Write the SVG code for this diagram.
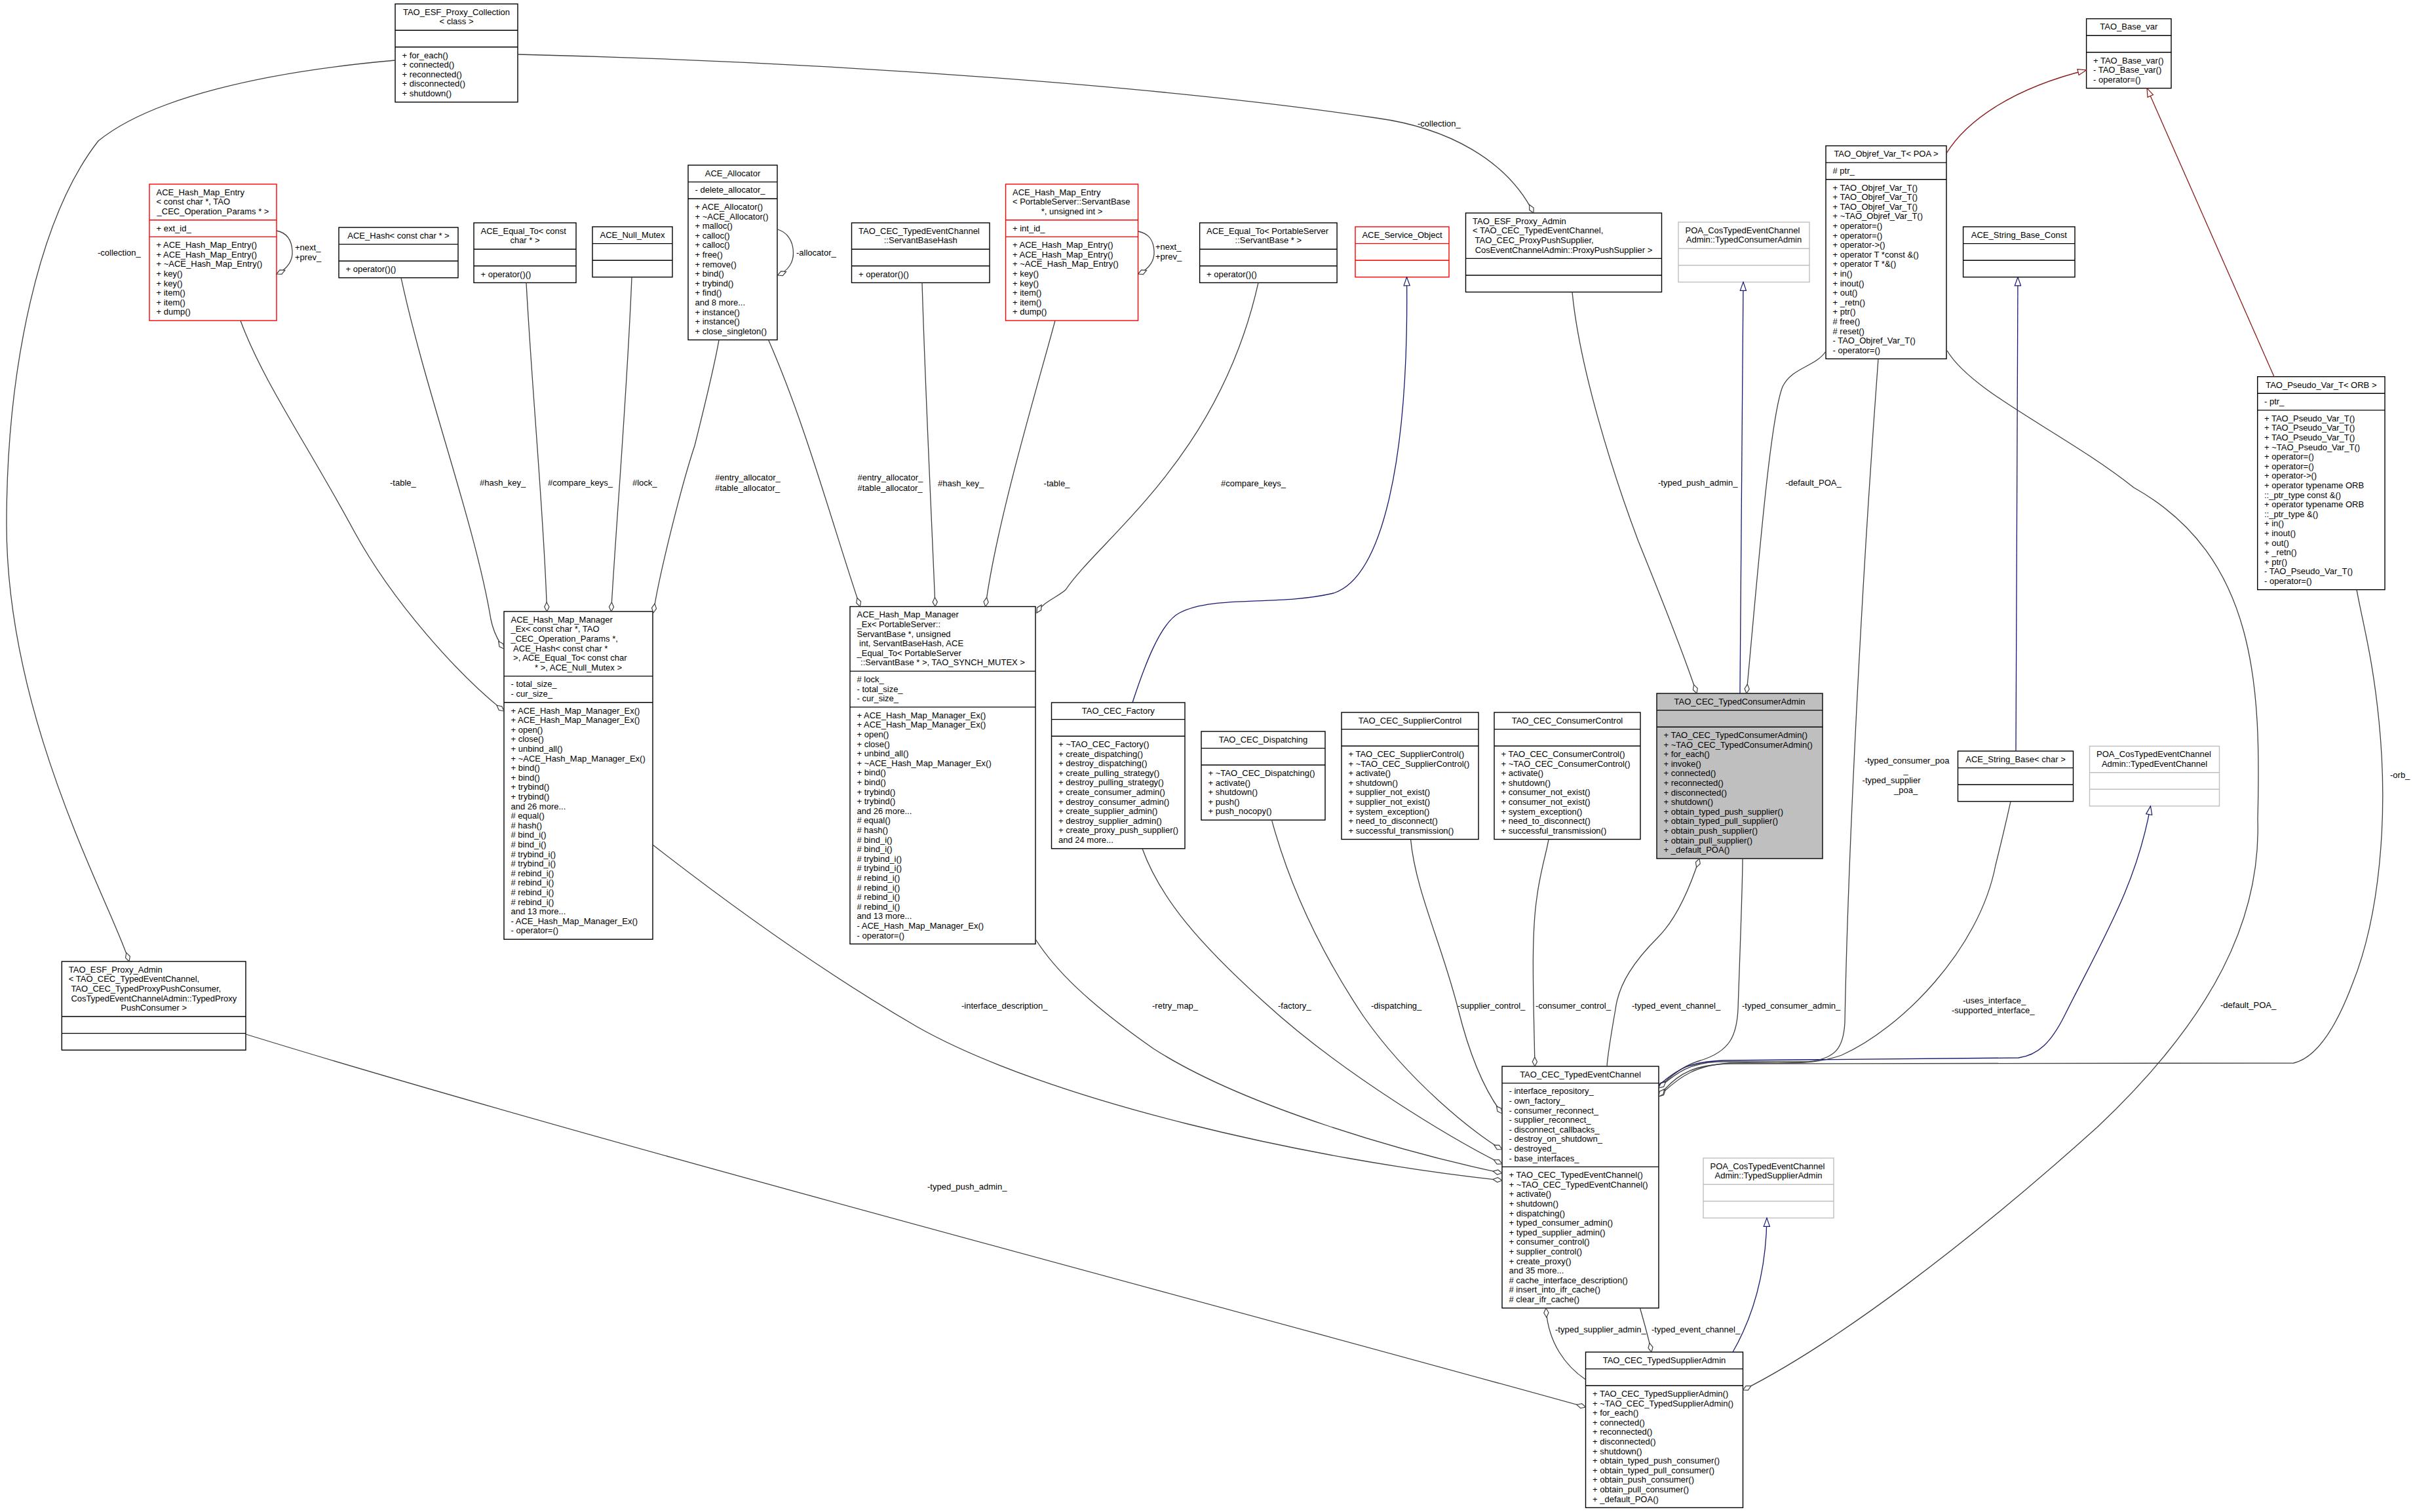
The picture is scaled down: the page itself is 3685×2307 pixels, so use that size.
<svg xmlns="http://www.w3.org/2000/svg" width="3685" height="2307" viewBox="0 0 3685 2307">
<style>
text{font-family:"Liberation Sans",Arial,Helvetica,sans-serif;font-size:13px;fill:#000}
.c{text-anchor:middle}
.n rect{fill:#fff;stroke:#000;stroke-width:1.4}
.n line{stroke:#000;stroke-width:1.4}
.r rect,.r line{stroke:#ff0000}
.g rect,.g line{stroke:#bfbfbf}
.sel rect{fill:#bfbfbf}
.e{fill:none;stroke:#404040;stroke-width:1.3}
.eb{fill:none;stroke:#191970;stroke-width:1.3}
.er{fill:none;stroke:#8b1a1a;stroke-width:1.3}
.a{marker-start:url(#dm)}
</style>
<defs>
<marker id="dm" viewBox="-1 -5 16 10" refX="0" refY="0" markerWidth="16" markerHeight="10" markerUnits="userSpaceOnUse" orient="auto"><path d="M0,0 L7,-3.6 L14,0 L7,3.6 Z" fill="#fff" stroke="#404040" stroke-width="1.2"/></marker>
<marker id="tb" viewBox="-1 -6 15 12" refX="13" refY="0" markerWidth="15" markerHeight="12" markerUnits="userSpaceOnUse" orient="auto"><path d="M0,-4.6 L13,0 L0,4.6 Z" fill="#fff" stroke="#191970" stroke-width="1.2"/></marker>
<marker id="tr" viewBox="-1 -6 15 12" refX="13" refY="0" markerWidth="15" markerHeight="12" markerUnits="userSpaceOnUse" orient="auto"><path d="M0,-4.6 L13,0 L0,4.6 Z" fill="#fff" stroke="#8b1a1a" stroke-width="1.2"/></marker>
</defs>
<rect x="0" y="0" width="3685" height="2307" fill="#fff"/>

<g id="TAO_ESF_Proxy_Collection" class="n">
<rect x="603" y="6" width="187" height="149.8"/>
<line x1="603" y1="46.2" x2="790" y2="46.2"/><line x1="603" y1="71.8" x2="790" y2="71.8"/>
<text x="696.5" y="22.8" class="c">TAO_ESF_Proxy_Collection</text>
<text x="696.5" y="37.4" class="c">&lt; class &gt;</text>
<text x="613.5" y="88.6"><tspan x="613.5">+ for_each()</tspan><tspan x="613.5" dy="14.6">+ connected()</tspan><tspan x="613.5" dy="14.6">+ reconnected()</tspan><tspan x="613.5" dy="14.6">+ disconnected()</tspan><tspan x="613.5" dy="14.6">+ shutdown()</tspan></text>
</g>

<g id="ACE_Hash_Map_Entry_const_char" class="n r">
<rect x="228" y="281" width="194" height="208.2"/>
<line x1="228" y1="335.8" x2="422" y2="335.8"/><line x1="228" y1="361.4" x2="422" y2="361.4"/>
<text x="238.5" y="297.8">ACE_Hash_Map_Entry</text>
<text x="238.5" y="312.4">&lt; const char *, TAO</text>
<text x="325" y="327" class="c">_CEC_Operation_Params * &gt;</text>
<text x="238.5" y="352.6">+ ext_id_</text>
<text x="238.5" y="378.2"><tspan x="238.5">+ ACE_Hash_Map_Entry()</tspan><tspan x="238.5" dy="14.6">+ ACE_Hash_Map_Entry()</tspan><tspan x="238.5" dy="14.6">+ ~ACE_Hash_Map_Entry()</tspan><tspan x="238.5" dy="14.6">+ key()</tspan><tspan x="238.5" dy="14.6">+ key()</tspan><tspan x="238.5" dy="14.6">+ item()</tspan><tspan x="238.5" dy="14.6">+ item()</tspan><tspan x="238.5" dy="14.6">+ dump()</tspan></text>
</g>

<g id="ACE_Hash_const_char" class="n">
<rect x="517" y="347" width="182" height="76.8"/>
<line x1="517" y1="372.6" x2="699" y2="372.6"/><line x1="517" y1="398.2" x2="699" y2="398.2"/>
<text x="608" y="363.8" class="c">ACE_Hash&lt; const char * &gt;</text>
<text x="527.5" y="415">+ operator()()</text>
</g>

<g id="ACE_Equal_To_const_char" class="n">
<rect x="723" y="340" width="156" height="91.4"/>
<line x1="723" y1="380.2" x2="879" y2="380.2"/><line x1="723" y1="405.8" x2="879" y2="405.8"/>
<text x="733.5" y="356.8">ACE_Equal_To&lt; const</text>
<text x="801" y="371.4" class="c">char * &gt;</text>
<text x="733.5" y="422.6">+ operator()()</text>
</g>

<g id="ACE_Null_Mutex" class="n">
<rect x="904" y="346" width="122" height="76.8"/>
<line x1="904" y1="371.6" x2="1026" y2="371.6"/><line x1="904" y1="397.2" x2="1026" y2="397.2"/>
<text x="965" y="362.8" class="c">ACE_Null_Mutex</text>
</g>

<g id="ACE_Allocator" class="n">
<rect x="1050" y="252" width="136" height="266.6"/>
<line x1="1050" y1="277.6" x2="1186" y2="277.6"/><line x1="1050" y1="303.2" x2="1186" y2="303.2"/>
<text x="1118" y="268.8" class="c">ACE_Allocator</text>
<text x="1060.5" y="294.4">- delete_allocator_</text>
<text x="1060.5" y="320"><tspan x="1060.5">+ ACE_Allocator()</tspan><tspan x="1060.5" dy="14.6">+ ~ACE_Allocator()</tspan><tspan x="1060.5" dy="14.6">+ malloc()</tspan><tspan x="1060.5" dy="14.6">+ calloc()</tspan><tspan x="1060.5" dy="14.6">+ calloc()</tspan><tspan x="1060.5" dy="14.6">+ free()</tspan><tspan x="1060.5" dy="14.6">+ remove()</tspan><tspan x="1060.5" dy="14.6">+ bind()</tspan><tspan x="1060.5" dy="14.6">+ trybind()</tspan><tspan x="1060.5" dy="14.6">+ find()</tspan><tspan x="1060.5" dy="14.6">and 8 more...</tspan><tspan x="1060.5" dy="14.6">+ instance()</tspan><tspan x="1060.5" dy="14.6">+ instance()</tspan><tspan x="1060.5" dy="14.6">+ close_singleton()</tspan></text>
</g>

<g id="ServantBaseHash" class="n">
<rect x="1299.5" y="340" width="210.5" height="91.4"/>
<line x1="1299.5" y1="380.2" x2="1510" y2="380.2"/><line x1="1299.5" y1="405.8" x2="1510" y2="405.8"/>
<text x="1310" y="356.8">TAO_CEC_TypedEventChannel</text>
<text x="1404.75" y="371.4" class="c">::ServantBaseHash</text>
<text x="1310" y="422.6">+ operator()()</text>
</g>

<g id="ACE_Hash_Map_Entry_ServantBase" class="n r">
<rect x="1534.5" y="281" width="202" height="208.2"/>
<line x1="1534.5" y1="335.8" x2="1736.5" y2="335.8"/><line x1="1534.5" y1="361.4" x2="1736.5" y2="361.4"/>
<text x="1545" y="297.8">ACE_Hash_Map_Entry</text>
<text x="1545" y="312.4">&lt; PortableServer::ServantBase</text>
<text x="1635.5" y="327" class="c">*, unsigned int &gt;</text>
<text x="1545" y="352.6">+ int_id_</text>
<text x="1545" y="378.2"><tspan x="1545">+ ACE_Hash_Map_Entry()</tspan><tspan x="1545" dy="14.6">+ ACE_Hash_Map_Entry()</tspan><tspan x="1545" dy="14.6">+ ~ACE_Hash_Map_Entry()</tspan><tspan x="1545" dy="14.6">+ key()</tspan><tspan x="1545" dy="14.6">+ key()</tspan><tspan x="1545" dy="14.6">+ item()</tspan><tspan x="1545" dy="14.6">+ item()</tspan><tspan x="1545" dy="14.6">+ dump()</tspan></text>
</g>

<g id="ACE_Equal_To_ServantBase" class="n">
<rect x="1830.6" y="340" width="209.5" height="91.4"/>
<line x1="1830.6" y1="380.2" x2="2040.1" y2="380.2"/><line x1="1830.6" y1="405.8" x2="2040.1" y2="405.8"/>
<text x="1841" y="356.8">ACE_Equal_To&lt; PortableServer</text>
<text x="1935.35" y="371.4" class="c">::ServantBase * &gt;</text>
<text x="1841" y="422.6">+ operator()()</text>
</g>

<g id="ACE_Service_Object" class="n r">
<rect x="2068" y="346" width="143" height="76.8"/>
<line x1="2068" y1="371.6" x2="2211" y2="371.6"/><line x1="2068" y1="397.2" x2="2211" y2="397.2"/>
<text x="2139.5" y="362.8" class="c">ACE_Service_Object</text>
</g>

<g id="TAO_ESF_Proxy_Admin_Supplier" class="n">
<rect x="2236.5" y="325" width="299" height="120.6"/>
<line x1="2236.5" y1="394.4" x2="2535.5" y2="394.4"/><line x1="2236.5" y1="420" x2="2535.5" y2="420"/>
<text x="2247" y="341.8">TAO_ESF_Proxy_Admin</text>
<text x="2247" y="356.4">&lt; TAO_CEC_TypedEventChannel,</text>
<text x="2250.6" y="371">TAO_CEC_ProxyPushSupplier,</text>
<text x="2386" y="385.6" class="c">CosEventChannelAdmin::ProxyPushSupplier &gt;</text>
</g>

<g id="POA_TypedConsumerAdmin" class="n g">
<rect x="2561" y="339" width="200" height="91.4"/>
<line x1="2561" y1="379.2" x2="2761" y2="379.2"/><line x1="2561" y1="404.8" x2="2761" y2="404.8"/>
<text x="2571.5" y="355.8">POA_CosTypedEventChannel</text>
<text x="2661" y="370.4" class="c">Admin::TypedConsumerAdmin</text>
</g>

<g id="TAO_Objref_Var_T_POA" class="n">
<rect x="2786" y="222.5" width="184" height="325"/>
<line x1="2786" y1="248.1" x2="2970" y2="248.1"/><line x1="2786" y1="273.7" x2="2970" y2="273.7"/>
<text x="2878" y="239.3" class="c">TAO_Objref_Var_T&lt; POA &gt;</text>
<text x="2796.5" y="264.9"># ptr_</text>
<text x="2796.5" y="290.5"><tspan x="2796.5">+ TAO_Objref_Var_T()</tspan><tspan x="2796.5" dy="14.6">+ TAO_Objref_Var_T()</tspan><tspan x="2796.5" dy="14.6">+ TAO_Objref_Var_T()</tspan><tspan x="2796.5" dy="14.6">+ ~TAO_Objref_Var_T()</tspan><tspan x="2796.5" dy="14.6">+ operator=()</tspan><tspan x="2796.5" dy="14.6">+ operator=()</tspan><tspan x="2796.5" dy="14.6">+ operator-&gt;()</tspan><tspan x="2796.5" dy="14.6">+ operator T *const &amp;()</tspan><tspan x="2796.5" dy="14.6">+ operator T *&amp;()</tspan><tspan x="2796.5" dy="14.6">+ in()</tspan><tspan x="2796.5" dy="14.6">+ inout()</tspan><tspan x="2796.5" dy="14.6">+ out()</tspan><tspan x="2796.5" dy="14.6">+ _retn()</tspan><tspan x="2796.5" dy="14.6">+ ptr()</tspan><tspan x="2796.5" dy="14.6"># free()</tspan><tspan x="2796.5" dy="14.6"># reset()</tspan><tspan x="2796.5" dy="14.6">- TAO_Objref_Var_T()</tspan><tspan x="2796.5" dy="14.6">- operator=()</tspan></text>
</g>

<g id="TAO_Base_var" class="n">
<rect x="3183.6" y="28.6" width="129.4" height="106"/>
<line x1="3183.6" y1="54.2" x2="3313" y2="54.2"/><line x1="3183.6" y1="79.8" x2="3313" y2="79.8"/>
<text x="3248.3" y="45.4" class="c">TAO_Base_var</text>
<text x="3194" y="96.6"><tspan x="3194">+ TAO_Base_var()</tspan><tspan x="3194" dy="14.6">- TAO_Base_var()</tspan><tspan x="3194" dy="14.6">- operator=()</tspan></text>
</g>

<g id="ACE_String_Base_Const" class="n">
<rect x="2995.6" y="346" width="170.4" height="76.8"/>
<line x1="2995.6" y1="371.6" x2="3166" y2="371.6"/><line x1="2995.6" y1="397.2" x2="3166" y2="397.2"/>
<text x="3080.8" y="362.8" class="c">ACE_String_Base_Const</text>
</g>

<g id="TAO_Pseudo_Var_T_ORB" class="n">
<rect x="3444.7" y="574.7" width="194.3" height="325"/>
<line x1="3444.7" y1="600.3" x2="3639" y2="600.3"/><line x1="3444.7" y1="625.9" x2="3639" y2="625.9"/>
<text x="3541.85" y="591.5" class="c">TAO_Pseudo_Var_T&lt; ORB &gt;</text>
<text x="3455" y="617.1">- ptr_</text>
<text x="3455" y="642.7"><tspan x="3455">+ TAO_Pseudo_Var_T()</tspan><tspan x="3455" dy="14.6">+ TAO_Pseudo_Var_T()</tspan><tspan x="3455" dy="14.6">+ TAO_Pseudo_Var_T()</tspan><tspan x="3455" dy="14.6">+ ~TAO_Pseudo_Var_T()</tspan><tspan x="3455" dy="14.6">+ operator=()</tspan><tspan x="3455" dy="14.6">+ operator=()</tspan><tspan x="3455" dy="14.6">+ operator-&gt;()</tspan><tspan x="3455" dy="14.6">+ operator typename ORB</tspan><tspan x="3455" dy="14.6">::_ptr_type const &amp;()</tspan><tspan x="3455" dy="14.6">+ operator typename ORB</tspan><tspan x="3455" dy="14.6">::_ptr_type &amp;()</tspan><tspan x="3455" dy="14.6">+ in()</tspan><tspan x="3455" dy="14.6">+ inout()</tspan><tspan x="3455" dy="14.6">+ out()</tspan><tspan x="3455" dy="14.6">+ _retn()</tspan><tspan x="3455" dy="14.6">+ ptr()</tspan><tspan x="3455" dy="14.6">- TAO_Pseudo_Var_T()</tspan><tspan x="3455" dy="14.6">- operator=()</tspan></text>
</g>

<g id="ACE_Hash_Map_Manager_Ex_const_char" class="n">
<rect x="769" y="933" width="227" height="500.2"/>
<line x1="769" y1="1031.6" x2="996" y2="1031.6"/><line x1="769" y1="1071.8" x2="996" y2="1071.8"/>
<text x="779.5" y="949.8"><tspan x="779.5">ACE_Hash_Map_Manager</tspan><tspan x="779.5" dy="14.6">_Ex&lt; const char *, TAO</tspan><tspan x="779.5" dy="14.6">_CEC_Operation_Params *,</tspan><tspan x="783.1" dy="14.6">ACE_Hash&lt; const char *</tspan><tspan x="783.1" dy="14.6">&gt;, ACE_Equal_To&lt; const char</tspan></text>
<text x="882.5" y="1022.8" class="c">* &gt;, ACE_Null_Mutex &gt;</text>
<text x="779.5" y="1048.4"><tspan x="779.5">- total_size_</tspan><tspan x="779.5" dy="14.6">- cur_size_</tspan></text>
<text x="779.5" y="1088.6"><tspan x="779.5">+ ACE_Hash_Map_Manager_Ex()</tspan><tspan x="779.5" dy="14.6">+ ACE_Hash_Map_Manager_Ex()</tspan><tspan x="779.5" dy="14.6">+ open()</tspan><tspan x="779.5" dy="14.6">+ close()</tspan><tspan x="779.5" dy="14.6">+ unbind_all()</tspan><tspan x="779.5" dy="14.6">+ ~ACE_Hash_Map_Manager_Ex()</tspan><tspan x="779.5" dy="14.6">+ bind()</tspan><tspan x="779.5" dy="14.6">+ bind()</tspan><tspan x="779.5" dy="14.6">+ trybind()</tspan><tspan x="779.5" dy="14.6">+ trybind()</tspan><tspan x="779.5" dy="14.6">and 26 more...</tspan><tspan x="779.5" dy="14.6"># equal()</tspan><tspan x="779.5" dy="14.6"># hash()</tspan><tspan x="779.5" dy="14.6"># bind_i()</tspan><tspan x="779.5" dy="14.6"># bind_i()</tspan><tspan x="779.5" dy="14.6"># trybind_i()</tspan><tspan x="779.5" dy="14.6"># trybind_i()</tspan><tspan x="779.5" dy="14.6"># rebind_i()</tspan><tspan x="779.5" dy="14.6"># rebind_i()</tspan><tspan x="779.5" dy="14.6"># rebind_i()</tspan><tspan x="779.5" dy="14.6"># rebind_i()</tspan><tspan x="779.5" dy="14.6">and 13 more...</tspan><tspan x="779.5" dy="14.6">- ACE_Hash_Map_Manager_Ex()</tspan><tspan x="779.5" dy="14.6">- operator=()</tspan></text>
</g>

<g id="ACE_Hash_Map_Manager_Ex_ServantBase" class="n">
<rect x="1297" y="925.5" width="283" height="514.8"/>
<line x1="1297" y1="1024.1" x2="1580" y2="1024.1"/><line x1="1297" y1="1078.9" x2="1580" y2="1078.9"/>
<text x="1307.5" y="942.3"><tspan x="1307.5">ACE_Hash_Map_Manager</tspan><tspan x="1307.5" dy="14.6">_Ex&lt; PortableServer::</tspan><tspan x="1307.5" dy="14.6">ServantBase *, unsigned</tspan><tspan x="1311.1" dy="14.6">int, ServantBaseHash, ACE</tspan><tspan x="1307.5" dy="14.6">_Equal_To&lt; PortableServer</tspan></text>
<text x="1438.5" y="1015.3" class="c">::ServantBase * &gt;, TAO_SYNCH_MUTEX &gt;</text>
<text x="1307.5" y="1040.9"><tspan x="1307.5"># lock_</tspan><tspan x="1307.5" dy="14.6">- total_size_</tspan><tspan x="1307.5" dy="14.6">- cur_size_</tspan></text>
<text x="1307.5" y="1095.7"><tspan x="1307.5">+ ACE_Hash_Map_Manager_Ex()</tspan><tspan x="1307.5" dy="14.6">+ ACE_Hash_Map_Manager_Ex()</tspan><tspan x="1307.5" dy="14.6">+ open()</tspan><tspan x="1307.5" dy="14.6">+ close()</tspan><tspan x="1307.5" dy="14.6">+ unbind_all()</tspan><tspan x="1307.5" dy="14.6">+ ~ACE_Hash_Map_Manager_Ex()</tspan><tspan x="1307.5" dy="14.6">+ bind()</tspan><tspan x="1307.5" dy="14.6">+ bind()</tspan><tspan x="1307.5" dy="14.6">+ trybind()</tspan><tspan x="1307.5" dy="14.6">+ trybind()</tspan><tspan x="1307.5" dy="14.6">and 26 more...</tspan><tspan x="1307.5" dy="14.6"># equal()</tspan><tspan x="1307.5" dy="14.6"># hash()</tspan><tspan x="1307.5" dy="14.6"># bind_i()</tspan><tspan x="1307.5" dy="14.6"># bind_i()</tspan><tspan x="1307.5" dy="14.6"># trybind_i()</tspan><tspan x="1307.5" dy="14.6"># trybind_i()</tspan><tspan x="1307.5" dy="14.6"># rebind_i()</tspan><tspan x="1307.5" dy="14.6"># rebind_i()</tspan><tspan x="1307.5" dy="14.6"># rebind_i()</tspan><tspan x="1307.5" dy="14.6"># rebind_i()</tspan><tspan x="1307.5" dy="14.6">and 13 more...</tspan><tspan x="1307.5" dy="14.6">- ACE_Hash_Map_Manager_Ex()</tspan><tspan x="1307.5" dy="14.6">- operator=()</tspan></text>
</g>

<g id="TAO_CEC_Factory" class="n">
<rect x="1604.5" y="1072" width="203.5" height="222.8"/>
<line x1="1604.5" y1="1097.6" x2="1808" y2="1097.6"/><line x1="1604.5" y1="1123.2" x2="1808" y2="1123.2"/>
<text x="1706.25" y="1088.8" class="c">TAO_CEC_Factory</text>
<text x="1615" y="1140"><tspan x="1615">+ ~TAO_CEC_Factory()</tspan><tspan x="1615" dy="14.6">+ create_dispatching()</tspan><tspan x="1615" dy="14.6">+ destroy_dispatching()</tspan><tspan x="1615" dy="14.6">+ create_pulling_strategy()</tspan><tspan x="1615" dy="14.6">+ destroy_pulling_strategy()</tspan><tspan x="1615" dy="14.6">+ create_consumer_admin()</tspan><tspan x="1615" dy="14.6">+ destroy_consumer_admin()</tspan><tspan x="1615" dy="14.6">+ create_supplier_admin()</tspan><tspan x="1615" dy="14.6">+ destroy_supplier_admin()</tspan><tspan x="1615" dy="14.6">+ create_proxy_push_supplier()</tspan><tspan x="1615" dy="14.6">and 24 more...</tspan></text>
</g>

<g id="TAO_CEC_Dispatching" class="n">
<rect x="1833" y="1116" width="189" height="135.2"/>
<line x1="1833" y1="1141.6" x2="2022" y2="1141.6"/><line x1="1833" y1="1167.2" x2="2022" y2="1167.2"/>
<text x="1927.5" y="1132.8" class="c">TAO_CEC_Dispatching</text>
<text x="1843.5" y="1184"><tspan x="1843.5">+ ~TAO_CEC_Dispatching()</tspan><tspan x="1843.5" dy="14.6">+ activate()</tspan><tspan x="1843.5" dy="14.6">+ shutdown()</tspan><tspan x="1843.5" dy="14.6">+ push()</tspan><tspan x="1843.5" dy="14.6">+ push_nocopy()</tspan></text>
</g>

<g id="TAO_CEC_SupplierControl" class="n">
<rect x="2047" y="1087" width="209" height="193.6"/>
<line x1="2047" y1="1112.6" x2="2256" y2="1112.6"/><line x1="2047" y1="1138.2" x2="2256" y2="1138.2"/>
<text x="2151.5" y="1103.8" class="c">TAO_CEC_SupplierControl</text>
<text x="2057.5" y="1155"><tspan x="2057.5">+ TAO_CEC_SupplierControl()</tspan><tspan x="2057.5" dy="14.6">+ ~TAO_CEC_SupplierControl()</tspan><tspan x="2057.5" dy="14.6">+ activate()</tspan><tspan x="2057.5" dy="14.6">+ shutdown()</tspan><tspan x="2057.5" dy="14.6">+ supplier_not_exist()</tspan><tspan x="2057.5" dy="14.6">+ supplier_not_exist()</tspan><tspan x="2057.5" dy="14.6">+ system_exception()</tspan><tspan x="2057.5" dy="14.6">+ need_to_disconnect()</tspan><tspan x="2057.5" dy="14.6">+ successful_transmission()</tspan></text>
</g>

<g id="TAO_CEC_ConsumerControl" class="n">
<rect x="2280" y="1087" width="223" height="193.6"/>
<line x1="2280" y1="1112.6" x2="2503" y2="1112.6"/><line x1="2280" y1="1138.2" x2="2503" y2="1138.2"/>
<text x="2391.5" y="1103.8" class="c">TAO_CEC_ConsumerControl</text>
<text x="2290.5" y="1155"><tspan x="2290.5">+ TAO_CEC_ConsumerControl()</tspan><tspan x="2290.5" dy="14.6">+ ~TAO_CEC_ConsumerControl()</tspan><tspan x="2290.5" dy="14.6">+ activate()</tspan><tspan x="2290.5" dy="14.6">+ shutdown()</tspan><tspan x="2290.5" dy="14.6">+ consumer_not_exist()</tspan><tspan x="2290.5" dy="14.6">+ consumer_not_exist()</tspan><tspan x="2290.5" dy="14.6">+ system_exception()</tspan><tspan x="2290.5" dy="14.6">+ need_to_disconnect()</tspan><tspan x="2290.5" dy="14.6">+ successful_transmission()</tspan></text>
</g>

<g id="TAO_CEC_TypedConsumerAdmin" class="n sel">
<rect x="2528" y="1058" width="253" height="252"/>
<line x1="2528" y1="1083.6" x2="2781" y2="1083.6"/><line x1="2528" y1="1109.2" x2="2781" y2="1109.2"/>
<text x="2654.5" y="1074.8" class="c">TAO_CEC_TypedConsumerAdmin</text>
<text x="2538.5" y="1126"><tspan x="2538.5">+ TAO_CEC_TypedConsumerAdmin()</tspan><tspan x="2538.5" dy="14.6">+ ~TAO_CEC_TypedConsumerAdmin()</tspan><tspan x="2538.5" dy="14.6">+ for_each()</tspan><tspan x="2538.5" dy="14.6">+ invoke()</tspan><tspan x="2538.5" dy="14.6">+ connected()</tspan><tspan x="2538.5" dy="14.6">+ reconnected()</tspan><tspan x="2538.5" dy="14.6">+ disconnected()</tspan><tspan x="2538.5" dy="14.6">+ shutdown()</tspan><tspan x="2538.5" dy="14.6">+ obtain_typed_push_supplier()</tspan><tspan x="2538.5" dy="14.6">+ obtain_typed_pull_supplier()</tspan><tspan x="2538.5" dy="14.6">+ obtain_push_supplier()</tspan><tspan x="2538.5" dy="14.6">+ obtain_pull_supplier()</tspan><tspan x="2538.5" dy="14.6">+ _default_POA()</tspan></text>
</g>

<g id="ACE_String_Base_char" class="n">
<rect x="2987.5" y="1146" width="176" height="76.8"/>
<line x1="2987.5" y1="1171.6" x2="3163.5" y2="1171.6"/><line x1="2987.5" y1="1197.2" x2="3163.5" y2="1197.2"/>
<text x="3075.5" y="1162.8" class="c">ACE_String_Base&lt; char &gt;</text>
</g>

<g id="POA_TypedEventChannel" class="n g">
<rect x="3188.5" y="1138.5" width="198" height="91.4"/>
<line x1="3188.5" y1="1178.7" x2="3386.5" y2="1178.7"/><line x1="3188.5" y1="1204.3" x2="3386.5" y2="1204.3"/>
<text x="3199" y="1155.3">POA_CosTypedEventChannel</text>
<text x="3287.5" y="1169.9" class="c">Admin::TypedEventChannel</text>
</g>

<g id="TAO_ESF_Proxy_Admin_Consumer" class="n">
<rect x="94.3" y="1467" width="280.7" height="135.2"/>
<line x1="94.3" y1="1551" x2="375" y2="1551"/><line x1="94.3" y1="1576.6" x2="375" y2="1576.6"/>
<text x="104.8" y="1483.8"><tspan x="104.8">TAO_ESF_Proxy_Admin</tspan><tspan x="104.8" dy="14.6">&lt; TAO_CEC_TypedEventChannel,</tspan><tspan x="108.4" dy="14.6">TAO_CEC_TypedProxyPushConsumer,</tspan><tspan x="108.4" dy="14.6">CosTypedEventChannelAdmin::TypedProxy</tspan></text>
<text x="234.65" y="1542.2" class="c">PushConsumer &gt;</text>
</g>

<g id="TAO_CEC_TypedEventChannel" class="n">
<rect x="2292" y="1627" width="239" height="368.8"/>
<line x1="2292" y1="1652.6" x2="2531" y2="1652.6"/><line x1="2292" y1="1780.4" x2="2531" y2="1780.4"/>
<text x="2411.5" y="1643.8" class="c">TAO_CEC_TypedEventChannel</text>
<text x="2302.5" y="1669.4"><tspan x="2302.5">- interface_repository_</tspan><tspan x="2302.5" dy="14.6">- own_factory_</tspan><tspan x="2302.5" dy="14.6">- consumer_reconnect_</tspan><tspan x="2302.5" dy="14.6">- supplier_reconnect_</tspan><tspan x="2302.5" dy="14.6">- disconnect_callbacks_</tspan><tspan x="2302.5" dy="14.6">- destroy_on_shutdown_</tspan><tspan x="2302.5" dy="14.6">- destroyed_</tspan><tspan x="2302.5" dy="14.6">- base_interfaces_</tspan></text>
<text x="2302.5" y="1797.2"><tspan x="2302.5">+ TAO_CEC_TypedEventChannel()</tspan><tspan x="2302.5" dy="14.6">+ ~TAO_CEC_TypedEventChannel()</tspan><tspan x="2302.5" dy="14.6">+ activate()</tspan><tspan x="2302.5" dy="14.6">+ shutdown()</tspan><tspan x="2302.5" dy="14.6">+ dispatching()</tspan><tspan x="2302.5" dy="14.6">+ typed_consumer_admin()</tspan><tspan x="2302.5" dy="14.6">+ typed_supplier_admin()</tspan><tspan x="2302.5" dy="14.6">+ consumer_control()</tspan><tspan x="2302.5" dy="14.6">+ supplier_control()</tspan><tspan x="2302.5" dy="14.6">+ create_proxy()</tspan><tspan x="2302.5" dy="14.6">and 35 more...</tspan><tspan x="2302.5" dy="14.6"># cache_interface_description()</tspan><tspan x="2302.5" dy="14.6"># insert_into_ifr_cache()</tspan><tspan x="2302.5" dy="14.6"># clear_ifr_cache()</tspan></text>
</g>

<g id="POA_TypedSupplierAdmin" class="n g">
<rect x="2599" y="1767" width="199" height="91.4"/>
<line x1="2599" y1="1807.2" x2="2798" y2="1807.2"/><line x1="2599" y1="1832.8" x2="2798" y2="1832.8"/>
<text x="2609.5" y="1783.8">POA_CosTypedEventChannel</text>
<text x="2698.5" y="1798.4" class="c">Admin::TypedSupplierAdmin</text>
</g>

<g id="TAO_CEC_TypedSupplierAdmin" class="n">
<rect x="2419.5" y="2063" width="240" height="237.4"/>
<line x1="2419.5" y1="2088.6" x2="2659.5" y2="2088.6"/><line x1="2419.5" y1="2114.2" x2="2659.5" y2="2114.2"/>
<text x="2539.5" y="2079.8" class="c">TAO_CEC_TypedSupplierAdmin</text>
<text x="2430" y="2131"><tspan x="2430">+ TAO_CEC_TypedSupplierAdmin()</tspan><tspan x="2430" dy="14.6">+ ~TAO_CEC_TypedSupplierAdmin()</tspan><tspan x="2430" dy="14.6">+ for_each()</tspan><tspan x="2430" dy="14.6">+ connected()</tspan><tspan x="2430" dy="14.6">+ reconnected()</tspan><tspan x="2430" dy="14.6">+ disconnected()</tspan><tspan x="2430" dy="14.6">+ shutdown()</tspan><tspan x="2430" dy="14.6">+ obtain_typed_push_consumer()</tspan><tspan x="2430" dy="14.6">+ obtain_typed_pull_consumer()</tspan><tspan x="2430" dy="14.6">+ obtain_push_consumer()</tspan><tspan x="2430" dy="14.6">+ obtain_pull_consumer()</tspan><tspan x="2430" dy="14.6">+ _default_POA()</tspan></text>
</g>

<g id="connectors">
<path class="e a" d="M197,1467 C170,1380 10,1100 10,800 C10,560 60,330 150,215 C230,150 400,110 603,92"/>
<path class="e a" d="M2340,325 C2300,245 2210,195 2100,180 C1800,135 1300,95 790,83"/>
<path class="e a" d="M2419.5,2147 C1800,1975 900,1740 375,1578"/>
<path class="e a" d="M769,1085 C700,1030 600,920 540,810 C470,680 400,580 367,489.2"/>
<path class="e a" d="M769,990 C758,975 752,960 749,945 C725,800 650,600 612,423.8"/>
<path class="e a" d="M834.5,933 C831,800 812,600 803,431.4"/>
<path class="e a" d="M932.6,933 C940,800 957,600 964,422.8"/>
<path class="e a" d="M997,935 C1005,880 1040,740 1060,680 C1075,620 1090,560 1097,518.6"/>
<path class="e a" d="M1312.4,925.5 C1270,800 1230,650 1172.5,518.6"/>
<path class="e a" d="M1427,925.5 C1422,800 1412,600 1407,431.4"/>
<path class="e a" d="M1503.7,925.5 C1520,800 1580,600 1610,489.2"/>
<path class="e a" d="M1582,935 C1592,918 1612,912 1626,900 C1680,820 1860,700 1920,431.4"/>
<path class="eb" marker-end="url(#tb)" d="M1728,1072 C1745,1020 1770,950 1800,935 C1850,908 1950,925 2035,905 C2110,880 2150,700 2146.5,422.8"/>
<path class="eb" marker-end="url(#tb)" d="M2655,1058 L2660,430.4"/>
<path class="e a" d="M2589,1058 C2570,1000 2530,900 2500,826 C2460,720 2410,560 2399,445.6"/>
<path class="e a" d="M2665,1058 C2680,900 2700,640 2720,590 C2735,560 2770,560 2786,536"/>
<path class="eb" marker-end="url(#tb)" d="M3076,1146 L3079,422.8"/>
<path class="er" marker-end="url(#tr)" d="M2970,234 C3000,185 3070,135 3183.6,107"/>
<path class="er" marker-end="url(#tr)" d="M3470,574.7 L3276,134.6"/>
<path class="e a" d="M2292,1699 C2270,1670 2245,1620 2225,1540 C2200,1440 2160,1360 2152.5,1280.6"/>
<path class="e a" d="M2342,1627 C2340,1520 2336,1430 2345,1370 C2350,1330 2360,1300 2363,1280.6"/>
<path class="e a" d="M2292,1754 C2250,1730 2150,1650 2080,1550 C2020,1460 1970,1360 1940.5,1251.2"/>
<path class="e a" d="M2292,1776 C2220,1740 2050,1640 1930,1530 C1830,1440 1770,1370 1743,1294.8"/>
<path class="e a" d="M2292,1790 C2150,1760 1900,1690 1760,1600 C1660,1530 1610,1480 1580,1433"/>
<path class="e a" d="M2292,1801 C2000,1770 1600,1680 1400,1567 C1250,1480 1100,1370 996,1289"/>
<path class="e a" d="M2593,1310 C2580,1350 2560,1400 2530,1430 C2495,1465 2470,1500 2465,1540 C2458,1580 2453,1610 2452,1627"/>
<path class="e a" d="M2531,1660 C2550,1640 2570,1625 2595,1618 C2640,1604 2650,1580 2652,1540 C2655,1450 2659,1350 2659,1310"/>
<path class="e a" d="M2531,1660 C2560,1635 2580,1622 2620,1620 L2760,1620 C2800,1615 2813,1600 2815,1560 C2820,1300 2840,900 2866,547.5"/>
<path class="e a" d="M2531,1673 C2565,1640 2590,1625 2640,1622 C2700,1620 2760,1628 2810,1610 C2900,1570 3020,1450 3045,1320 C3055,1280 3062,1250 3068,1222.8"/>
<path class="e a" d="M2531,1673 C2560,1635 2590,1624 2640,1623 L3500,1622 C3530,1615 3560,1580 3590,1500 C3630,1400 3645,1250 3630,1100 C3620,1000 3605,950 3596,899.7"/>
<path class="eb" marker-end="url(#tb)" d="M2531,1656 C2560,1630 2580,1620 2630,1618 L3080,1614 C3110,1610 3130,1590 3150,1550 C3210,1430 3260,1350 3281.5,1229.9"/>
<path class="e a" d="M2659.5,2121 C2800,2050 3000,1900 3200,1720 C3380,1550 3450,1400 3445,1250 C3450,1050 3445,850 3256,744 C3150,660 3010,600 2971,535"/>
<path class="e a" d="M2359,1996 C2362,2050 2390,2085 2419.5,2105"/>
<path class="e a" d="M2520,2063 C2515,2040 2508,2015 2502.5,1996"/>
<path class="eb" marker-end="url(#tb)" d="M2644,2063 C2680,2000 2695,1930 2696,1858.4"/>
<path class="e a" d="M1186.6,420 C1203,413 1211,400 1210.5,385 C1210,366 1200,354 1186.6,350"/>
<path class="e a" d="M422,418 C440,410 447,396 446,383 C445,365 437,355 422,352"/>
<path class="e a" d="M1736.6,418 C1755,410 1762,396 1761,383 C1760,365 1752,356 1736.6,353"/>
<g id="edge-labels">
<text x="149" y="389.5">-collection_</text>
<text x="2163" y="193">-collection_</text>
<text x="450" y="381.5">+next_</text><text x="450" y="396.5">+prev_</text>
<text x="1763" y="381">+next_</text><text x="1763" y="396">+prev_</text>
<text x="1215" y="389.5">-allocator_</text>
<text x="595" y="741">-table_</text>
<text x="732" y="741">#hash_key_</text>
<text x="836" y="741">#compare_keys_</text>
<text x="965" y="741">#lock_</text>
<text x="1091" y="733">#entry_allocator_</text><text x="1091" y="748.5">#table_allocator_</text>
<text x="1308.5" y="733">#entry_allocator_</text><text x="1308.5" y="748.5">#table_allocator_</text>
<text x="1431" y="741.5">#hash_key_</text>
<text x="1592.6" y="741.5">-table_</text>
<text x="1863" y="741.5">#compare_keys_</text>
<text x="2530" y="740.5">-typed_push_admin_</text>
<text x="2724.5" y="740.5">-default_POA_</text>
<text x="2845" y="1165">-typed_consumer_poa</text>
<text x="2908" y="1179.5" class="c">_</text>
<text x="2841.6" y="1195">-typed_supplier</text>
<text x="2890" y="1209.5">_poa_</text>
<text x="3647" y="1186.5">-orb_</text>
<text x="1467" y="1538.8">-interface_description_</text>
<text x="1758" y="1538.8">-retry_map_</text>
<text x="1950" y="1538.8">-factory_</text>
<text x="2092" y="1538.8">-dispatching_</text>
<text x="2224" y="1538.8">-supplier_control_</text>
<text x="2343" y="1538.8">-consumer_control_</text>
<text x="2490" y="1538.8">-typed_event_channel_</text>
<text x="2658" y="1538.8">-typed_consumer_admin_</text>
<text x="2995" y="1531.3">-uses_interface_</text>
<text x="2978" y="1545.5">-supported_interface_</text>
<text x="3388" y="1538">-default_POA_</text>
<text x="1415" y="1814.5">-typed_push_admin_</text>
<text x="2373" y="2032.5">-typed_supplier_admin_</text>
<text x="2520" y="2032.5">-typed_event_channel_</text>
</g>
</g>
</svg>
